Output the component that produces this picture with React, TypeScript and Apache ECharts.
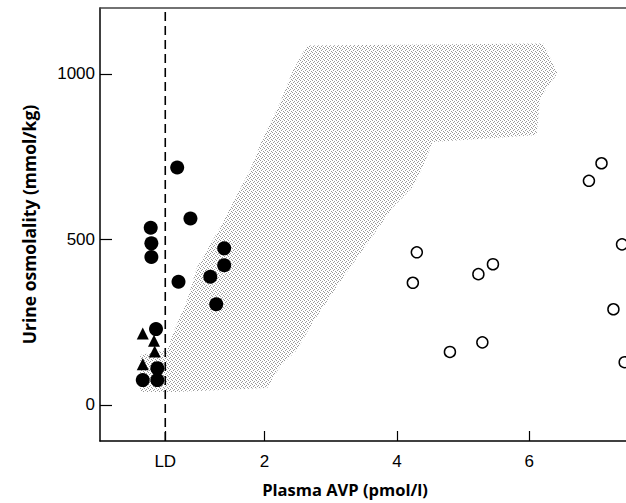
import React, { useEffect, useRef } from "react";
import * as echarts from "echarts";

// Axis setup (data units)
const X_MIN = -0.486;
const X_MAX = 7.46;
const Y_MIN = -109;
const Y_MAX = 1199;
const LD = 0.5;
const X_TICKS = [0.5, 2, 4, 6];
const Y_TICKS = [0, 500, 1000];

// Filled circles
const FILLED_X = [0.68, 0.88, 0.28, 0.29, 0.29, 1.39, 1.39, 0.70, 1.18, 1.27, 0.36, 0.38, 0.16, 0.38];
const FILLED_Y = [717, 563, 535, 488, 447, 473, 422, 372, 387, 304, 229, 111, 75, 75];

// Filled triangles
const TRI_X = [0.16, 0.33, 0.34, 0.16];
const TRI_Y = [216, 194, 161, 123];

// Open circles
const OPEN_X = [7.09, 6.90, 7.40, 4.30, 4.24, 5.45, 5.23, 7.27, 5.29, 4.80, 7.44];
const OPEN_Y = [730, 677, 485, 461, 369, 425, 395, 289, 189, 160, 129];

// Shaded (normal range) region outline
const SHADE_X = [2.64, 6.21, 6.43, 6.27, 6.16, 6.11, 4.54, 4.39, 4.24, 3.94, 3.59, 3.21, 2.72, 2.49, 2.23, 2.04, 0.65, 0.12, 0.12, 0.53, 0.62, 0.83, 0.98, 1.28, 1.52, 1.78, 1.98, 2.23, 2.43];
const SHADE_Y = [1086, 1092, 1002, 960, 920, 815, 794, 718, 658, 597, 498, 392, 247, 166, 115, 51, 39, 39, 151, 166, 217, 317, 416, 519, 610, 709, 809, 911, 1011];

const zip = (xs: number[], ys: number[]) => xs.map((x, i) => [x, ys[i]]);

function makeStipple(): any {
  try {
    const c = document.createElement("canvas");
    c.width = 4;
    c.height = 4;
    const ctx = c.getContext("2d");
    if (!ctx) return "#dcdcdc";
    ctx.fillStyle = "#ffffff";
    ctx.fillRect(0, 0, 4, 4);
    ctx.fillStyle = "#999999";
    ctx.fillRect(0, 0, 1, 1);
    ctx.fillRect(2, 1, 1, 1);
    ctx.fillRect(1, 2, 1, 1);
    ctx.fillRect(3, 3, 1, 1);
    return { image: c, repeat: "repeat" };
  } catch (e) {
    return "#dcdcdc";
  }
}

export default function App() {
  const ref = useRef<HTMLDivElement>(null);
  useEffect(() => {
    if (!ref.current) return;
    const chart = echarts.init(ref.current, null, { renderer: "svg" });
    const labelFont = "'Liberation Sans', Arial, sans-serif";
    const titleFont = "'Open Sans', 'DejaVu Sans', sans-serif";
    const stipple = makeStipple();
    chart.setOption({
      animation: false,
      backgroundColor: "#ffffff",
      grid: { left: 100, top: 8, right: 0, bottom: 62, containLabel: false },
      xAxis: [
        {
          type: "value",
          min: X_MIN,
          max: X_MAX,
          splitLine: { show: false },
          axisLine: { show: true, onZero: false, lineStyle: { color: "#000", width: 1.5 } },
          axisTick: { show: true, inside: true, length: 10, customValues: X_TICKS, lineStyle: { color: "#000", width: 1.2 } },
          axisLabel: {
            customValues: X_TICKS,
            margin: 12,
            color: "#000",
            fontSize: 17,
            fontFamily: labelFont,
            formatter: (v: number) => (v === LD ? "LD" : String(v)),
          },
          name: "Plasma AVP (pmol/l)",
          nameLocation: "middle",
          nameGap: 40,
          nameTextStyle: { fontSize: 16.5, fontWeight: "bold", color: "#000", fontFamily: titleFont, padding: [0, 36, 0, 0] },
        },
        {
          type: "value",
          position: "top",
          min: X_MIN,
          max: X_MAX,
          splitLine: { show: false },
          axisLine: { show: true, onZero: false, lineStyle: { color: "#444", width: 1.5 } },
          axisTick: { show: false },
          axisLabel: { show: false },
        },
      ],
      yAxis: {
        type: "value",
        min: Y_MIN,
        max: Y_MAX,
        splitLine: { show: false },
        axisLine: { show: true, onZero: false, lineStyle: { color: "#000", width: 1.5 } },
        axisTick: { show: true, inside: true, length: 12, customValues: Y_TICKS, lineStyle: { color: "#000", width: 1.2 } },
        axisLabel: {
          customValues: Y_TICKS,
          margin: 5,
          color: "#000",
          fontSize: 17,
          fontFamily: labelFont,
          formatter: (v: number) => String(v),
        },
        name: "Urine osmolality (mmol/kg)",
        nameLocation: "middle",
        nameGap: 62,
        nameTextStyle: { fontSize: 17.5, fontWeight: "bold", color: "#000", fontFamily: titleFont },
      },
      series: [
        {
          type: "custom",
          name: "shade",
          clip: true,
          z: 1,
          data: [[SHADE_X[0], SHADE_Y[0]]],
          renderItem: (params: any, api: any) => {
            const pts = SHADE_X.map((x, i) => api.coord([x, SHADE_Y[i]]));
            return { type: "polygon", shape: { points: pts }, style: { fill: stipple, stroke: "none" } };
          },
          silent: true,
        },
        {
          type: "line",
          name: "LD",
          data: [[LD, Y_MIN], [LD, Y_MAX]],
          symbol: "none",
          z: 3,
          lineStyle: { color: "#000", width: 1.6, type: [9, 5] },
          silent: true,
        },
        {
          type: "scatter",
          name: "filled",
          data: zip(FILLED_X, FILLED_Y),
          symbol: "circle",
          symbolSize: 14,
          z: 4,
          itemStyle: { color: "#000", opacity: 1 },
        },
        {
          type: "scatter",
          name: "triangles",
          data: zip(TRI_X, TRI_Y),
          symbol: "triangle",
          symbolSize: 12,
          z: 4,
          itemStyle: { color: "#000", opacity: 1 },
        },
        {
          type: "scatter",
          name: "open",
          data: zip(OPEN_X, OPEN_Y),
          symbol: "circle",
          symbolSize: 11,
          z: 4,
          itemStyle: { color: "#fff", borderColor: "#000", borderWidth: 1.5, opacity: 1 },
        },
      ],
    });
    return () => chart.dispose();
  }, []);
  return <div ref={ref} style={{ position: "fixed", left: 0, top: 0, width: 626, height: 503 }} />;
}
